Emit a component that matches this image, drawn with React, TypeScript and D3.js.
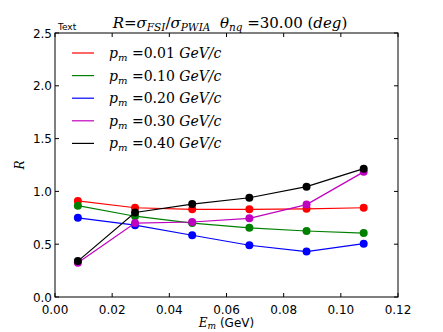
import React from 'react';
import * as d3 from 'd3';

const energies = [0.008, 0.028, 0.048, 0.068, 0.088, 0.108];
const momenta = ['0.01', '0.10', '0.20', '0.30', '0.40'];
const colors = ['#ff0000', '#008000', '#0000ff', '#bf00bf', '#000000'];
const ratioP001 = [0.91, 0.845, 0.83, 0.83, 0.835, 0.845];
const ratioP010 = [0.865, 0.765, 0.70, 0.655, 0.625, 0.605];
const ratioP020 = [0.75, 0.68, 0.585, 0.49, 0.43, 0.505];
const ratioP030 = [0.325, 0.70, 0.71, 0.745, 0.875, 1.185];
const ratioP040 = [0.34, 0.80, 0.88, 0.94, 1.045, 1.215];
const series = [ratioP001, ratioP010, ratioP020, ratioP030, ratioP040];
const xTicks = [0, 0.02, 0.04, 0.06, 0.08, 0.1, 0.12];
const yTicks = [0, 0.5, 1.0, 1.5, 2.0, 2.5];

const W = 443;
const H = 332;
const m = { left: 55, right: 398, top: 33, bottom: 297 };
const serif = 'DejaVu Serif';
const sans = 'DejaVu Sans';

export default function App() {
  const x = d3.scaleLinear().domain([0, 0.12]).range([m.left, m.right]);
  const y = d3.scaleLinear().domain([0, 2.5]).range([m.bottom, m.top]);
  const line = d3.line<number>().x((_, i) => x(energies[i])).y(d => y(d));
  const tick = 4;

  return (
    <svg width={W} height={H} style={{ position: 'absolute', left: 0, top: 0, background: '#fff' }}>
      {/* title */}
      <text x={230} y={28} textAnchor="middle" fontFamily={serif} fontSize={15}>
        <tspan fontStyle="italic">R</tspan>
        <tspan>=</tspan>
        <tspan fontStyle="italic">σ</tspan>
        <tspan fontStyle="italic" fontSize={10.5} dy={3}>FSI</tspan>
        <tspan dy={-3}>/</tspan>
        <tspan fontStyle="italic">σ</tspan>
        <tspan fontStyle="italic" fontSize={10.5} dy={3}>PWIA</tspan>
        <tspan dy={-3}>{'\u00a0\u00a0'}</tspan>
        <tspan fontStyle="italic">θ</tspan>
        <tspan fontStyle="italic" fontSize={10.5} dy={3}>nq</tspan>
        <tspan dy={-3}>{'\u00a0=30.00 ('}</tspan>
        <tspan fontStyle="italic">deg</tspan>
        <tspan>)</tspan>
      </text>
      <text x={58} y={30} fontFamily={sans} fontSize={9}>Text</text>

      {/* data */}
      {series.map((s, k) => (
        <g key={k}>
          <path d={line(s) || ''} fill="none" stroke={colors[k]} strokeWidth={1.2} />
          {s.map((v, i) => (
            <circle key={i} cx={x(energies[i])} cy={y(v)} r={4} fill={colors[k]} />
          ))}
        </g>
      ))}

      {/* frame and ticks */}
      <rect x={m.left} y={m.top} width={m.right - m.left} height={m.bottom - m.top} fill="none" stroke="#000" strokeWidth={1} />
      {xTicks.map(t => (
        <g key={'x' + t}>
          <line x1={x(t)} x2={x(t)} y1={m.bottom} y2={m.bottom - tick} stroke="#000" />
          <line x1={x(t)} x2={x(t)} y1={m.top} y2={m.top + tick} stroke="#000" />
          <text x={x(t)} y={m.bottom + 17} textAnchor="middle" fontFamily={sans} fontSize={12}>{t.toFixed(2)}</text>
        </g>
      ))}
      {yTicks.map(t => (
        <g key={'y' + t}>
          <line x1={m.left} x2={m.left + tick} y1={y(t)} y2={y(t)} stroke="#000" />
          <line x1={m.right} x2={m.right - tick} y1={y(t)} y2={y(t)} stroke="#000" />
          <text x={m.left - 3} y={y(t) + 4.5} textAnchor="end" fontFamily={sans} fontSize={12}>{t.toFixed(1)}</text>
        </g>
      ))}

      {/* axis labels */}
      <text x={(m.left + m.right) / 2} y={327} textAnchor="middle" fontSize={12}>
        <tspan fontFamily={serif} fontStyle="italic">E</tspan>
        <tspan fontFamily={serif} fontStyle="italic" fontSize={9} dy={2}>m</tspan>
        <tspan fontFamily={sans} dy={-2}> (GeV)</tspan>
      </text>
      <text transform={`translate(24,${(m.top + m.bottom) / 2}) rotate(-90)`} textAnchor="middle" fontFamily={serif} fontStyle="italic" fontSize={12}>R</text>

      {/* legend */}
      {momenta.map((p, k) => {
        const ry = 53 + k * 22.6;
        return (
          <g key={p}>
            <line x1={72} x2={94} y1={ry} y2={ry} stroke={colors[k]} strokeWidth={1.2} />
            <text x={109} y={ry + 5} fontFamily={serif} fontSize={14}>
              <tspan fontStyle="italic">p</tspan>
              <tspan fontStyle="italic" fontSize={10} dy={3}>m</tspan>
              <tspan dy={-3}>{'\u00a0=' + p + '\u00a0'}</tspan>
              <tspan fontStyle="italic">GeV/c</tspan>
            </text>
          </g>
        );
      })}
    </svg>
  );
}
